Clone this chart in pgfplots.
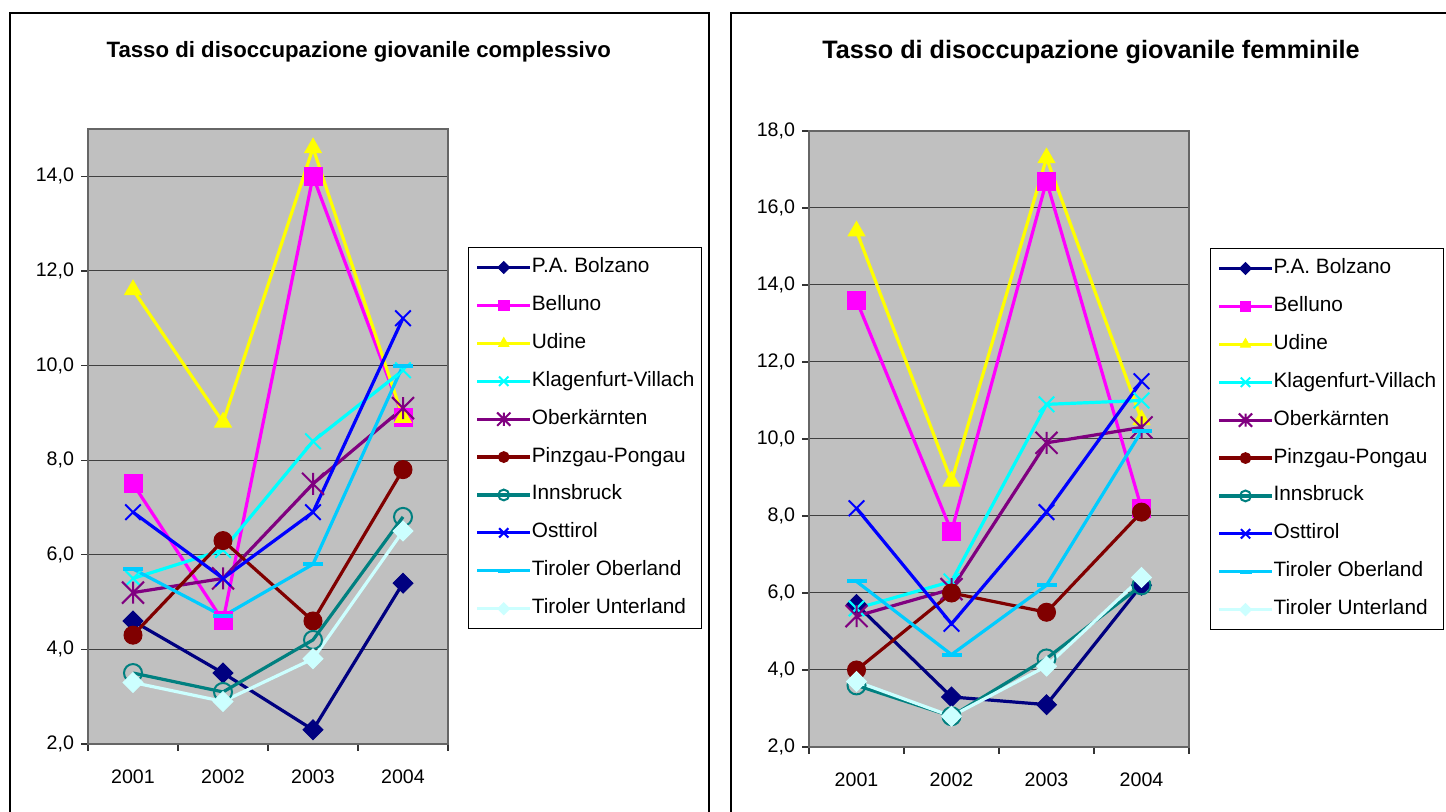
\documentclass[border=0pt]{standalone}
\usepackage{pgfplots}
\pgfplotsset{compat=1.18}
\usepackage{fontspec}
\setmainfont{Liberation Sans}

\definecolor{cNavy}{HTML}{000080}
\definecolor{cMag}{HTML}{FF00FF}
\definecolor{cYel}{HTML}{FFFF00}
\definecolor{cCyan}{HTML}{00FFFF}
\definecolor{cPurp}{HTML}{800080}
\definecolor{cMaroon}{HTML}{800000}
\definecolor{cTeal}{HTML}{008080}
\definecolor{cBlue}{HTML}{0000FF}
\definecolor{cSky}{HTML}{00CCFF}
\definecolor{cLCyan}{HTML}{CCFFFF}
\definecolor{plotgrey}{HTML}{C0C0C0}

\pgfdeclareplotmark{xstar}{%
  \pgfpathmoveto{\pgfqpoint{-\pgfplotmarksize}{-\pgfplotmarksize}}%
  \pgfpathlineto{\pgfqpoint{\pgfplotmarksize}{\pgfplotmarksize}}%
  \pgfpathmoveto{\pgfqpoint{-\pgfplotmarksize}{\pgfplotmarksize}}%
  \pgfpathlineto{\pgfqpoint{\pgfplotmarksize}{-\pgfplotmarksize}}%
  \pgfpathmoveto{\pgfqpoint{0pt}{-\pgfplotmarksize}}%
  \pgfpathlineto{\pgfqpoint{0pt}{\pgfplotmarksize}}%
  \pgfusepathqstroke}

\pgfplotsset{
  excel/.style={
    scale only axis,
    axis background/.style={fill=plotgrey},
    axis line style={draw=gray!80!black, line width=0.6pt},
    xmin=0.5, xmax=4.5,
    xtick={0.5,1.5,2.5,3.5,4.5},
    xticklabels={},
    extra x ticks={1,2,3,4},
    extra x tick labels={2001,2002,2003,2004},
    extra x tick style={major tick length=0pt, xticklabel style={yshift=-9.2pt}},
    tick align=outside,
    major tick length=3.5pt,
    tick pos=left,
    tick style={black!80, line width=0.6pt},
    ymajorgrids,
    grid style={black!75, line width=0.5pt},
    ticklabel style={font=\fontsize{9.8}{11}\selectfont},
    yticklabel style={/pgf/number format/.cd, fixed, fixed zerofill, precision=1, use comma, assume math mode=true},
    every axis plot/.append style={line width=1.6pt},
    title style={anchor=base},
    legend cell align=left,
    legend style={
      draw=black, line width=0.5pt, fill=white,
      anchor=north west,
      font=\fontsize{10.4}{12}\selectfont,
      inner xsep=3.5pt, inner ysep=5pt,
      nodes={inner sep=0pt, text height=7.5pt, text depth=2.5pt},
      row sep=8.95pt,
      /tikz/every even column/.append style={column sep=4pt},
    },
    legend image code/.code={%
      \draw[mark repeat=2, mark phase=2, #1, every mark/.append style={scale=0.6}]
        plot coordinates {(0pt,0pt) (13.25pt,0pt) (26.5pt,0pt)};},
  },
  sNavy/.style={cNavy, mark=square*, mark size=3.5pt, mark options={rotate=45, fill=cNavy, line width=0.5pt}},
  sMag/.style={cMag, mark=square*, mark size=4.5pt, mark options={fill=cMag, line width=0.5pt}},
  sYel/.style={cYel, mark=triangle*, mark size=4.8pt, mark options={fill=cYel, line width=0.5pt}},
  sCyan/.style={cCyan, mark=x, mark size=5.5pt, mark options={line width=1pt}},
  sPurp/.style={cPurp, mark=xstar, mark size=5.5pt, mark options={line width=1pt}},
  sMaroon/.style={cMaroon, mark=*, mark size=4.5pt, mark options={fill=cMaroon, line width=0.5pt}},
  sTeal/.style={cTeal, mark=o, mark size=4.5pt, mark options={line width=1pt}},
  sBlue/.style={cBlue, mark=x, mark size=5.5pt, mark options={line width=1pt}},
  sSky/.style={cSky, mark=-, mark size=5pt, mark options={line width=2pt}},
  sLCyan/.style={cLCyan, mark=square*, mark size=3.5pt, mark options={rotate=45, fill=cLCyan, line width=0.5pt}},
}

\begin{document}
\begin{tikzpicture}
\useasboundingbox[fill=white] (0,0) rectangle (723pt,406pt);
% panel frames
\draw[black, line width=0.7pt] (5pt,-2pt) -- (5pt,399.5pt) -- (354.5pt,399.5pt) -- (354.5pt,-2pt);
\draw[black, line width=0.7pt] (365.5pt,-2pt) -- (365.5pt,399.5pt) -- (725pt,399.5pt);

\begin{axis}[excel,
  at={(44pt,34pt)}, anchor=south west,
  width=180pt, height=307.5pt,
  ymin=2, ymax=15, ytick={2,4,...,14},
  title={Tasso di disoccupazione giovanile complessivo},
  title style={at={(0.752,1.0971)}, font=\bfseries\fontsize{11.1}{13}\selectfont},
  legend style={at={(1.056,0.808)}},
]
\addplot[sNavy] coordinates {(1,4.6) (2,3.5) (3,2.3) (4,5.4)};
\addlegendentry{P.A. Bolzano}
\addplot[sMag] coordinates {(1,7.5) (2,4.6) (3,14.0) (4,8.9)};
\addlegendentry{Belluno}
\addplot[sYel] coordinates {(1,11.6) (2,8.8) (3,14.6) (4,8.9)};
\addlegendentry{Udine}
\addplot[sCyan] coordinates {(1,5.5) (2,6.1) (3,8.4) (4,9.9)};
\addlegendentry{Klagenfurt-Villach}
\addplot[sPurp] coordinates {(1,5.2) (2,5.5) (3,7.5) (4,9.1)};
\addlegendentry{Oberkärnten}
\addplot[sMaroon] coordinates {(1,4.3) (2,6.3) (3,4.6) (4,7.8)};
\addlegendentry{Pinzgau-Pongau}
\addplot[sTeal] coordinates {(1,3.5) (2,3.1) (3,4.2) (4,6.8)};
\addlegendentry{Innsbruck}
\addplot[sBlue] coordinates {(1,6.9) (2,5.5) (3,6.9) (4,11.0)};
\addlegendentry{Osttirol}
\addplot[sSky] coordinates {(1,5.7) (2,4.7) (3,5.8) (4,10.0)};
\addlegendentry{Tiroler Oberland}
\addplot[sLCyan] coordinates {(1,3.3) (2,2.9) (3,3.8) (4,6.5)};
\addlegendentry{Tiroler Unterland}
\end{axis}

\begin{axis}[excel,
  at={(404.5pt,32.5pt)}, anchor=south west,
  width=190pt, height=308pt,
  ymin=2, ymax=18, ytick={2,4,...,18},
  title={Tasso di disoccupazione giovanile femminile},
  title style={at={(0.742,1.0985)}, font=\bfseries\fontsize{12.6}{15}\selectfont},
  legend style={at={(1.055,0.810)}},
]
\addplot[sNavy] coordinates {(1,5.7) (2,3.3) (3,3.1) (4,6.2)};
\addlegendentry{P.A. Bolzano}
\addplot[sMag] coordinates {(1,13.6) (2,7.6) (3,16.7) (4,8.2)};
\addlegendentry{Belluno}
\addplot[sYel] coordinates {(1,15.4) (2,8.9) (3,17.3) (4,10.5)};
\addlegendentry{Udine}
\addplot[sCyan] coordinates {(1,5.6) (2,6.3) (3,10.9) (4,11.0)};
\addlegendentry{Klagenfurt-Villach}
\addplot[sPurp] coordinates {(1,5.4) (2,6.1) (3,9.9) (4,10.3)};
\addlegendentry{Oberkärnten}
\addplot[sMaroon] coordinates {(1,4.0) (2,6.0) (3,5.5) (4,8.1)};
\addlegendentry{Pinzgau-Pongau}
\addplot[sTeal] coordinates {(1,3.6) (2,2.8) (3,4.3) (4,6.2)};
\addlegendentry{Innsbruck}
\addplot[sBlue] coordinates {(1,8.2) (2,5.2) (3,8.1) (4,11.5)};
\addlegendentry{Osttirol}
\addplot[sSky] coordinates {(1,6.3) (2,4.4) (3,6.2) (4,10.2)};
\addlegendentry{Tiroler Oberland}
\addplot[sLCyan] coordinates {(1,3.7) (2,2.8) (3,4.1) (4,6.4)};
\addlegendentry{Tiroler Unterland}
\end{axis}
\end{tikzpicture}
\end{document}
